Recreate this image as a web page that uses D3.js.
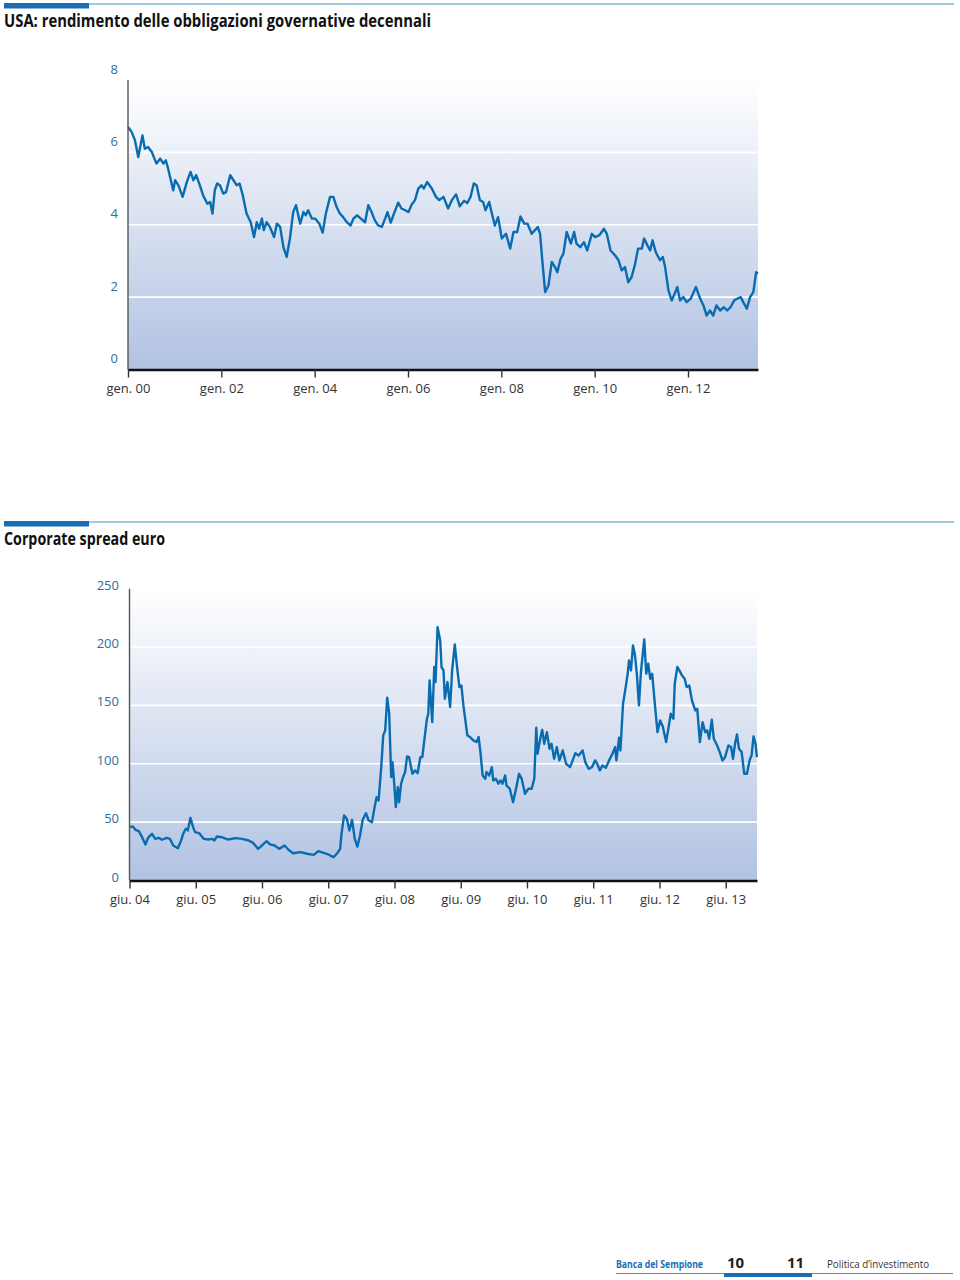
<!DOCTYPE html>
<html>
<head>
<meta charset="utf-8">
<script src="https://cdn.jsdelivr.net/npm/d3@7"></script>
<style>
  html, body { margin: 0; padding: 0; background: #ffffff; }
  svg { display: block; }
  text { font-family: "Open Sans", "Noto Sans", sans-serif; }
</style>
</head>
<body>
<svg id="chart" width="960" height="1280"></svg>
<script>
// ---------- Data: US 10y government bond yield (%) ----------
const usDates = [
  2000.00,2000.08,2000.15,2000.22,2000.31,2000.36,2000.43,2000.51,2000.61,2000.69,2000.76,2000.81,2000.86,2000.97,
  2001.01,2001.08,2001.17,2001.26,2001.34,2001.40,2001.46,2001.54,2001.61,2001.70,2001.76,2001.81,2001.86,2001.91,2001.97,
  2002.04,2002.10,2002.19,2002.26,2002.33,2002.39,2002.46,2002.54,2002.63,2002.70,2002.76,2002.81,2002.87,2002.91,2002.97,
  2003.04,2003.13,2003.19,2003.26,2003.33,2003.40,2003.47,2003.54,2003.60,2003.69,2003.76,2003.81,2003.86,2003.94,
  2004.01,2004.10,2004.17,2004.24,2004.33,2004.40,2004.47,2004.54,2004.61,2004.69,2004.77,2004.83,2004.91,2004.99,
  2005.08,2005.15,2005.22,2005.29,2005.36,2005.44,2005.51,2005.56,2005.63,2005.70,2005.79,2005.86,2005.94,
  2006.01,2006.08,2006.15,2006.22,2006.29,2006.34,2006.41,2006.51,2006.60,2006.67,2006.76,2006.86,2006.94,
  2007.03,2007.11,2007.20,2007.27,2007.34,2007.41,2007.47,2007.54,2007.61,2007.66,2007.74,2007.79,2007.86,2007.93,
  2008.01,2008.10,2008.19,2008.26,2008.34,2008.41,2008.49,2008.56,2008.65,2008.72,2008.78,2008.83,2008.89,2008.94,
  2009.01,2009.08,2009.15,2009.20,2009.27,2009.33,2009.40,2009.49,2009.56,2009.61,2009.69,2009.77,2009.84,2009.94,
  2010.01,2010.10,2010.20,2010.26,2010.34,2010.44,2010.51,2010.58,2010.65,2010.72,2010.79,2010.86,2010.93,
  2011.01,2011.06,2011.13,2011.19,2011.24,2011.31,2011.40,2011.46,2011.51,2011.58,2011.65,2011.70,2011.77,2011.83,2011.90,2011.97,
  2012.06,2012.17,2012.26,2012.33,2012.40,2012.47,2012.54,2012.61,2012.69,2012.77,2012.84,2012.91,2012.99,
  2013.06,2013.13,2013.20,2013.26,2013.33,2013.40,2013.46,2013.50
];
const usYield = [
  6.70,6.56,6.33,5.87,6.47,6.10,6.15,6.01,5.69,5.83,5.69,5.78,5.55,4.95,
  5.23,5.09,4.77,5.18,5.46,5.23,5.37,5.09,4.81,4.58,4.63,4.31,4.95,5.14,5.09,
  4.86,4.90,5.37,5.23,5.09,5.14,4.81,4.31,4.07,3.66,4.07,3.89,4.17,3.85,4.07,
  3.94,3.66,4.03,3.94,3.38,3.11,3.62,4.35,4.54,4.03,4.35,4.26,4.40,4.17,
  4.17,4.03,3.78,4.31,4.77,4.77,4.49,4.31,4.21,4.07,3.98,4.17,4.26,4.17,
  4.07,4.54,4.35,4.12,3.98,3.94,4.17,4.35,4.06,4.31,4.61,4.45,4.40,
  4.35,4.56,4.68,5.00,5.09,5.00,5.18,5.00,4.77,4.68,4.77,4.45,4.68,
  4.84,4.51,4.66,4.60,4.77,5.14,5.09,4.68,4.63,4.40,4.63,4.35,3.98,4.21,
  3.62,3.75,3.34,3.80,3.80,4.23,4.03,4.03,3.75,3.85,3.94,3.75,2.83,2.14,
  2.32,2.97,2.83,2.69,3.06,3.20,3.80,3.48,3.80,3.48,3.38,3.52,3.29,3.75,
  3.66,3.71,3.89,3.75,3.29,3.15,3.02,2.74,2.83,2.41,2.55,2.88,3.34,
  3.34,3.62,3.43,3.29,3.57,3.24,3.02,3.11,2.83,2.19,1.91,2.05,2.28,1.91,2.00,1.86,
  1.96,2.28,1.96,1.77,1.49,1.63,1.49,1.77,1.63,1.72,1.63,1.72,1.91,
  1.96,2.00,1.82,1.68,2.00,2.14,2.69,2.65
];
const usYTicks = [0, 2, 4, 6, 8];
const usXTicks = [2000, 2002, 2004, 2006, 2008, 2010, 2012];
const usXTickLabels = ["gen. 00", "gen. 02", "gen. 04", "gen. 06", "gen. 08", "gen. 10", "gen. 12"];

// ---------- Data: euro corporate spread (bp) ----------
const spreadDates = [
  2004.43,2004.47,2004.51,2004.56,2004.61,2004.66,2004.70,2004.76,2004.81,2004.86,2004.91,2004.98,
  2005.03,2005.08,2005.15,2005.20,2005.23,2005.27,2005.30,2005.34,2005.38,2005.41,2005.47,2005.54,2005.61,2005.67,2005.70,2005.74,2005.81,2005.91,
  2006.02,2006.12,2006.22,2006.29,2006.36,2006.42,2006.49,2006.54,2006.61,2006.68,2006.76,2006.82,2006.89,
  2007.00,2007.10,2007.20,2007.27,2007.35,2007.42,2007.50,2007.55,2007.60,2007.62,2007.66,2007.70,2007.74,2007.78,2007.82,2007.86,2007.90,2007.94,2007.99,
  2008.03,2008.08,2008.12,2008.15,2008.18,2008.22,2008.25,2008.28,2008.31,2008.34,2008.37,2008.39,2008.42,2008.44,2008.47,2008.49,2008.52,2008.55,2008.58,2008.61,2008.64,2008.69,2008.73,2008.77,2008.81,2008.84,2008.87,2008.91,2008.93,2008.95,2008.99,
  2009.02,2009.04,2009.07,2009.11,2009.13,2009.16,2009.18,2009.22,2009.26,2009.29,2009.33,2009.37,2009.40,2009.43,2009.46,2009.50,2009.52,2009.56,2009.61,2009.66,2009.69,2009.72,2009.75,2009.79,2009.81,2009.85,2009.89,2009.91,2009.95,2009.99,
  2010.02,2010.05,2010.09,2010.11,2010.16,2010.21,2010.26,2010.30,2010.34,2010.39,2010.44,2010.49,2010.53,2010.56,2010.58,2010.62,2010.65,2010.68,2010.72,2010.76,2010.79,2010.83,2010.87,2010.91,2010.96,
  2011.01,2011.07,2011.11,2011.15,2011.20,2011.26,2011.30,2011.35,2011.40,2011.45,2011.48,2011.52,2011.56,2011.61,2011.66,2011.71,2011.75,2011.77,2011.81,2011.83,2011.87,2011.91,2011.94,2011.96,2011.99,
  2012.02,2012.05,2012.08,2012.11,2012.14,2012.19,2012.22,2012.25,2012.28,2012.31,2012.35,2012.39,2012.43,2012.47,2012.52,2012.55,2012.59,2012.63,2012.65,2012.69,2012.72,2012.76,2012.80,2012.83,2012.87,2012.91,2012.96,2012.99,
  2013.03,2013.07,2013.11,2013.14,2013.17,2013.21,2013.24,2013.29,2013.33,2013.37,2013.41,2013.46,2013.50,2013.53,2013.56,2013.59,2013.62,2013.66,2013.70,2013.74,2013.78,2013.81,2013.84,2013.87,2013.89
];
const spreadValues = [
  45.7,46.3,43.4,42.3,37.1,30.9,36.6,40.0,35.7,36.6,34.9,36.6,
  35.7,30.0,27.7,34.3,40.0,44.3,42.9,53.7,45.7,41.4,40.6,35.7,35.1,35.7,34.3,37.7,37.1,35.1,
  36.3,35.7,34.3,32.0,27.1,30.0,33.7,30.9,30.0,27.1,30.0,26.3,23.4,
  24.3,22.9,22.0,25.1,23.7,22.3,20.0,22.9,27.1,40.0,55.7,52.9,42.9,52.0,35.7,29.1,38.6,52.0,57.7,
  51.4,50.0,62.9,71.4,68.6,97.1,124.3,128.6,156.6,142.9,88.6,101.4,80.0,62.9,80.0,67.1,82.9,88.6,92.9,106.3,105.7,91.4,94.3,92.0,105.7,105.7,120.0,138.6,142.9,171.4,135.7,
  182.9,170.0,217.1,205.7,182.9,180.0,155.7,170.0,148.6,180.0,202.3,180.0,165.7,167.1,150.0,132.9,124.3,122.9,120.0,118.6,122.9,108.6,90.0,87.1,92.9,90.0,97.1,85.7,87.1,82.9,
  85.7,82.9,90.0,81.4,78.6,67.1,80.0,91.4,87.1,74.3,78.6,78.6,87.1,130.9,108.6,121.4,129.1,117.1,127.1,112.9,117.1,104.3,114.3,102.9,111.4,
  100.0,97.1,102.9,109.1,107.1,111.4,101.4,95.7,97.1,102.9,100.0,94.3,98.6,96.6,102.9,108.6,114.3,102.9,122.3,111.4,151.4,165.7,177.1,188.6,180.0,
  201.4,192.9,175.7,150.0,178.6,206.6,177.1,185.7,172.9,177.1,151.4,127.1,137.1,132.0,118.6,128.6,142.9,138.6,168.6,182.9,180.0,175.7,172.9,165.7,167.1,154.3,145.7,147.1,
  118.6,135.7,127.1,128.6,121.4,137.7,121.4,115.7,110.0,102.9,105.7,115.7,114.3,104.3,117.1,125.1,112.9,110.0,91.4,91.4,102.9,107.1,123.4,117.1,105.7
];
const spreadYTicks = [0, 50, 100, 150, 200, 250];
const spreadXTicks = [2004.42, 2005.42, 2006.42, 2007.42, 2008.42, 2009.42, 2010.42, 2011.42, 2012.42, 2013.42];
const spreadXTickLabels = ["giu. 04", "giu. 05", "giu. 06", "giu. 07", "giu. 08", "giu. 09", "giu. 10", "giu. 11", "giu. 12", "giu. 13"];

// ---------- Drawing ----------
const svg = d3.select("#chart");
const BLUE = "#1a6db4";
const TEAL = "#4a92bb";
const LINE = "#0a6cb0";

const defs = svg.append("defs");
const grad = defs.append("linearGradient").attr("id", "bg").attr("x1", 0).attr("y1", 0).attr("x2", 0).attr("y2", 1);
grad.append("stop").attr("offset", "0%").attr("stop-color", "#ffffff");
grad.append("stop").attr("offset", "100%").attr("stop-color", "#b1c2e2");

function header(y, title, width) {
  svg.append("line").attr("x1", 4).attr("x2", 954).attr("y1", y + 1).attr("y2", y + 1)
    .attr("stroke", TEAL).attr("stroke-width", 1.2);
  svg.append("rect").attr("x", 4).attr("y", y).attr("width", 85).attr("height", 5.5).attr("fill", BLUE);
  svg.append("text").attr("x", 4).attr("y", y + 23.5).text(title)
    .attr("font-size", 17).attr("font-weight", "bold").attr("fill", "#111")
    .attr("textLength", width).attr("lengthAdjust", "spacingAndGlyphs");
}

function drawChart(cfg) {
  const { x, y, dates, values, yTicks, gridTicks, xTicks, xLabels, yLabelDy, yLabelX } = cfg;
  const [x0, x1] = x.range();
  const [yb, yt] = y.range();
  const g = svg.append("g");
  g.append("rect").attr("x", x0).attr("y", yt).attr("width", x1 - x0).attr("height", yb - yt).attr("fill", "url(#bg)");
  g.selectAll(".grid").data(gridTicks).enter().append("line")
    .attr("x1", x0).attr("x2", x1).attr("y1", d => y(d)).attr("y2", d => y(d))
    .attr("stroke", "#ffffff").attr("stroke-width", 1.6);
  const pts = dates.map((d, i) => [d, values[i]]);
  const line = d3.line().x(d => x(d[0])).y(d => y(d[1]));
  g.append("path").datum(pts).attr("d", line).attr("fill", "none")
    .attr("stroke", LINE).attr("stroke-width", 2.4).attr("stroke-linejoin", "round");
  // y axis line
  g.append("line").attr("x1", x0).attr("x2", x0).attr("y1", yt).attr("y2", yb)
    .attr("stroke", "#555").attr("stroke-width", 1.4);
  // y labels
  g.selectAll(".ylab").data(yTicks).enter().append("text")
    .attr("x", yLabelX).attr("y", d => y(d) + yLabelDy).attr("text-anchor", "end")
    .attr("font-size", 13).attr("fill", "#2d6e9e").text(d => d);
  // x axis
  const ax = d3.axisBottom(x).tickValues(xTicks).tickSize(8).tickSizeOuter(0)
    .tickFormat((d, i) => xLabels[i]);
  const axg = g.append("g").attr("transform", `translate(0,${yb})`).call(ax);
  axg.select(".domain").attr("stroke", "#111").attr("stroke-width", 2.6);
  axg.selectAll(".tick line").attr("stroke", "#333").attr("stroke-width", 1.4);
  axg.selectAll(".tick text").attr("y", 14).attr("dy", "0.71em")
    .attr("font-size", 13).attr("fill", "#333").attr("font-family", "Open Sans, sans-serif");
}

// Chart 1
header(3, "USA: rendimento delle obbligazioni governative decennali", 427);
drawChart({
  x: d3.scaleLinear().domain([2000, 2013.5]).range([128, 758]),
  y: d3.scaleLinear().domain([0, 8]).range([369.5, 80]),
  dates: usDates, values: usYield,
  yTicks: usYTicks, gridTicks: [2, 4, 6],
  xTicks: usXTicks, xLabels: usXTickLabels,
  yLabelDy: -6.5, yLabelX: 118
});

// Chart 2
header(521, "Corporate spread euro", 161);
drawChart({
  x: d3.scaleLinear().domain([2004.42, 2013.892]).range([129.5, 757]),
  y: d3.scaleLinear().domain([0, 250]).range([880.5, 588.7]),
  dates: spreadDates, values: spreadValues,
  yTicks: spreadYTicks, gridTicks: [50, 100, 150, 200],
  xTicks: spreadXTicks, xLabels: spreadXTickLabels,
  yLabelDy: 1, yLabelX: 119
});

// Footer
svg.append("line").attr("x1", 616).attr("x2", 953).attr("y1", 1273.5).attr("y2", 1273.5)
  .attr("stroke", TEAL).attr("stroke-width", 1);
svg.append("rect").attr("x", 724).attr("y", 1273).attr("width", 88).attr("height", 4).attr("fill", BLUE);
svg.append("text").attr("x", 616).attr("y", 1268).text("Banca del Sempione")
  .attr("font-size", 10).attr("font-weight", "bold").attr("fill", BLUE)
  .attr("textLength", 87).attr("lengthAdjust", "spacingAndGlyphs");
svg.append("text").attr("x", 727).attr("y", 1268).text("10")
  .attr("font-size", 15).attr("font-weight", "bold").attr("fill", "#222");
svg.append("text").attr("x", 787).attr("y", 1268).text("11")
  .attr("font-size", 15).attr("font-weight", "bold").attr("fill", "#222");
svg.append("text").attr("x", 827).attr("y", 1268).text("Politica d’investimento")
  .attr("font-size", 10).attr("fill", "#333")
  .attr("textLength", 102).attr("lengthAdjust", "spacingAndGlyphs");
</script>
</body>
</html>
